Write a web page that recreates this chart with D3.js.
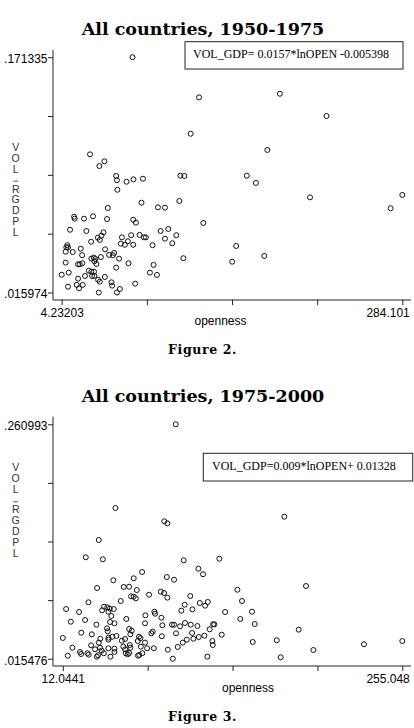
<!DOCTYPE html>
<html>
<head>
<meta charset="utf-8">
<script src="https://cdn.jsdelivr.net/npm/d3@7"></script>
<style>
  body { margin: 0; background: #fff; }
  svg { display: block; }
</style>
</head>
<body>
<svg id="chart" width="414" height="728"></svg>
<script>
// ---- Figure 2: all countries, 1950-1975 ----
const open5075 = [
  27.5, 35.2, 39.3, 49.0, 49.6, 57.5, 63.2, 71.0, 50.0, 101.7,
  105.0, 69.8, 100.9, 42.1, 83.3, 89.1, 14.4, 14.9, 22.6, 30.0,
  41.5, 63.0, 65.2, 120.6, 11.1, 24.5, 38.5, 36.9, 33.9, 35.5,
  28.4, 61.3, 68.2, 71.8, 73.4, 53.7, 58.6, 52.8, 56.1, 63.0,
  85.5, 91.8, 89.1, 98.4, 95.1, 78.9, 8.8, 8.0, 9.4, 7.5,
  13.3, 19.9, 39.9, 47.3, 46.3, 43.2, 21.0, 36.4, 30.6, 31.9,
  31.1, 32.7, 28.6, 51.4, 104.2, 7.5, 17.7, 19.1, 21.2, 59.1,
  49.0, 79.7, 26.5, 28.6, 30.8, 76.7, 82.5, 4.23203, 10.0, 23.4,
  29.2, 31.1, 39.7, 17.7, 34.1, 35.5, 45.1, 16.6, 21.5, 9.4,
  18.5, 45.7, 64.6, 52.0, 49.6, 34.7, 62.4, 117.1, 110.2, 183.5,
  221.8, 173.2, 156.3, 163.8, 208.3, 284.101, 274.5, 147.6, 144.3, 170.7
];
const vol5075 = [
  0.1072, 0.0995, 0.1026, 0.0929, 0.0901, 0.0891, 0.0907, 0.0911, 0.0838, 0.0931,
  0.0929, 0.0753, 0.0764, 0.0718, 0.0722, 0.0720, 0.0660, 0.0647, 0.0647, 0.0663,
  0.0645, 0.0640, 0.0621, 0.0619, 0.0574, 0.0566, 0.0557, 0.0535, 0.0522, 0.0507,
  0.0495, 0.0538, 0.0540, 0.0524, 0.0524, 0.0524, 0.0498, 0.0482, 0.0475, 0.0475,
  0.0566, 0.0579, 0.0515, 0.0538, 0.0485, 0.0472, 0.0472, 0.0458, 0.0458, 0.0429,
  0.0427, 0.0449, 0.0445, 0.0421, 0.0406, 0.0408, 0.0406, 0.0394, 0.0390, 0.0381,
  0.0366, 0.0348, 0.0383, 0.0383, 0.0386, 0.0357, 0.0346, 0.0346, 0.0353, 0.0353,
  0.0324, 0.0342, 0.0304, 0.0297, 0.0297, 0.0291, 0.0276, 0.0277, 0.0291, 0.0269,
  0.0269, 0.0269, 0.0262, 0.0251, 0.0244, 0.0231, 0.0227, 0.0210, 0.0210, 0.0198,
  0.0188, 0.0205, 0.0218, 0.0183, 0.0160, 0.015974, 0.171335, 0.1448, 0.1208, 0.1472,
  0.1325, 0.1101, 0.0931, 0.0883, 0.0788, 0.0804, 0.0716, 0.0467, 0.0363, 0.0401
];

// ---- Figure 3: all countries, 1975-2000 ----
const open7500 = [
  92.9, 49.7, 84.7, 86.9, 170.6, 37.8, 28.5, 40.7, 98.6, 124.1,
  109.1, 112.4, 68.8, 86.5, 91.7, 48.2, 62.8, 186.1, 36.6, 55.7,
  59.5, 65.0, 137.0, 60.9, 62.8, 64.3, 53.5, 73.8, 82.2, 84.5,
  86.9, 103.3, 30.4, 41.6, 43.9, 45.7, 48.5, 40.2, 44.7, 14.4,
  23.7, 77.6, 78.1, 99.3, 110.1, 113.9, 115.8, 140.3, 96.9, 104.8,
  128.2, 147.5, 46.8, 71.2, 17.8, 28.0, 57.5, 45.9, 49.0, 82.6,
  70.9, 36.1, 83.3, 139.1, 149.4, 90.2, 91.7, 96.0, 99.5, 103.6,
  108.4, 119.6, 120.5, 117.2, 43.7, 44.2, 25.3, 32.8, 59.5, 61.4,
  60.4, 76.4, 75.4, 50.4, 12.0441, 38.9, 44.7, 44.7, 47.5, 54.3,
  56.6, 66.6, 67.6, 82.9, 93.1, 104.6, 105.5, 109.4, 113.4, 125.8,
  100.8, 97.9, 94.3, 119.1, 119.4, 87.2, 148.0, 90.8, 115.5, 37.8,
  65.7, 70.9, 32.3, 18.9, 35.1, 38.7, 39.9, 44.7, 49.0, 49.0,
  55.4, 56.6, 60.0, 60.4, 67.9, 72.4, 77.2, 24.4, 25.1, 29.6,
  30.6, 15.6, 36.4, 37.3, 41.4, 46.1, 57.1, 58.5, 59.5, 65.9,
  66.8, 69.0, 165.2, 180.9, 168.0, 191.4, 227.6, 255.048
];
const vol7500 = [
  0.260993, 0.1733, 0.1594, 0.1573, 0.1642, 0.1398, 0.1217, 0.1196, 0.1185, 0.1202,
  0.1097, 0.1039, 0.1063, 0.1010, 0.0982, 0.0976, 0.0997, 0.0916, 0.0895, 0.0906,
  0.0909, 0.0874, 0.0877, 0.0808, 0.0804, 0.0787, 0.0759, 0.0825, 0.0857, 0.0843,
  0.0794, 0.0811, 0.0746, 0.0699, 0.0693, 0.0679, 0.0675, 0.0662, 0.0647, 0.0675,
  0.0644, 0.0647, 0.0626, 0.0720, 0.0738, 0.0710, 0.0749, 0.0759, 0.0658, 0.0672,
  0.0644, 0.0647, 0.0602, 0.0609, 0.0542, 0.0560, 0.0571, 0.0539, 0.0526, 0.0584,
  0.0526, 0.0511, 0.0505, 0.0571, 0.0518, 0.0511, 0.0511, 0.0494, 0.0529, 0.0511,
  0.0497, 0.0515, 0.0515, 0.0463, 0.0473, 0.0442, 0.0427, 0.0410, 0.0466, 0.0448,
  0.0410, 0.0438, 0.0421, 0.0393, 0.0372, 0.0364, 0.0375, 0.0354, 0.0385, 0.0343,
  0.0361, 0.0385, 0.0369, 0.0390, 0.0421, 0.0424, 0.0364, 0.0382, 0.0396, 0.0406,
  0.0354, 0.0323, 0.0278, 0.0340, 0.0298, 0.0249, 0.0330, 0.015476, 0.0176, 0.0323,
  0.0340, 0.0323, 0.0295, 0.0270, 0.0253, 0.0270, 0.0239, 0.0264, 0.0260, 0.0225,
  0.0281, 0.0253, 0.0298, 0.0270, 0.0281, 0.0264, 0.0264, 0.0225, 0.0204, 0.0212,
  0.0197, 0.0186, 0.0176, 0.0191, 0.0212, 0.0176, 0.0212, 0.0201, 0.0215, 0.0186,
  0.0194, 0.0212, 0.0348, 0.0459, 0.0170, 0.0246, 0.0306, 0.0340
];

const xLabels5075 = ["4.23203", "284.101"];
const yLabels5075 = [".171335", ".015974"];
const xLabels7500 = ["12.0441", "255.048"];
const yLabels7500 = [".260993", ".015476"];

const panels = [
  {
    title: "All countries, 1950-1975", caption: "Figure 2.",
    eq: "VOL_GDP= 0.0157*lnOPEN -0.005398",
    xs: open5075, ys: vol5075,
    xDom: [4.23203, 284.101], yDom: [0.015974, 0.171335],
    xLab: xLabels5075, yLab: yLabels5075,
    titleY: 35, axisY: 300, axisTop: 50, xRange: [61.7, 402.3], yRange: [292.5, 57.2],
    box: {x: 185, y: 41.7, w: 218, h: 27.3, tx: 193, ty: 57.5},
    xTitleX: 220.5, xTitleY: 325, captionY: 354, yTitleTop: 146.7
  },
  {
    title: "All countries, 1975-2000", caption: "Figure 3.",
    eq: "VOL_GDP=0.009*lnOPEN+ 0.01328",
    xs: open7500, ys: vol7500,
    xDom: [12.0441, 255.048], yDom: [0.015476, 0.260993],
    xLab: xLabels7500, yLab: yLabels7500,
    titleY: 401.7, axisY: 666, axisTop: 416.7, xRange: [62.8, 402.3], yRange: [658.7, 424.3],
    box: {x: 203.3, y: 453.3, w: 209.4, h: 27.7, tx: 212, ty: 469.5},
    xTitleX: 248, xTitleY: 691.7, captionY: 721, yTitleTop: 467.3
  }
];

const svg = d3.select("#chart");
const axisX = 53;
const sans = "'Liberation Sans', Arial, sans-serif";

function drawPanel(p) {
  const g = svg.append("g");
  const x = d3.scaleLinear().domain(p.xDom).range(p.xRange);
  const y = d3.scaleLinear().domain(p.yDom).range(p.yRange);

  // five even ticks, only the ends labelled
  const xt = d3.range(5).map(i => p.xDom[0] + i * (p.xDom[1] - p.xDom[0]) / 4);
  const yt = d3.range(5).map(i => p.yDom[0] + i * (p.yDom[1] - p.yDom[0]) / 4);

  g.append("text")
    .attr("x", 203).attr("y", p.titleY)
    .attr("text-anchor", "middle")
    .style("font-family", "'DejaVu Serif', serif")
    .style("font-weight", "bold")
    .style("font-size", "17.5px")
    .text(p.title);

  // axes
  const ya = g.append("g")
    .attr("transform", `translate(${axisX},0)`)
    .call(d3.axisLeft(y).tickValues(yt).tickSize(5).tickPadding(0.5)
      .tickFormat((d, i) => i === 0 ? p.yLab[1] : i === 4 ? p.yLab[0] : ""));
  ya.select(".domain").remove();
  ya.selectAll("text").style("font-family", sans).style("font-size", "12px")
    .attr("dy", "0.45em");

  const xa = g.append("g")
    .attr("transform", `translate(0,${p.axisY})`)
    .call(d3.axisBottom(x).tickValues(xt).tickSize(5).tickPadding(3.2)
      .tickFormat((d, i) => i === 0 ? p.xLab[0] : i === 4 ? p.xLab[1] : ""));
  xa.select(".domain").remove();
  xa.selectAll("text").style("font-family", sans).style("font-size", "12px");
  xa.selectAll(".tick").filter((d, i) => i === 4).select("text")
    .attr("text-anchor", "end").attr("dx", 7);

  g.selectAll(".tick line").attr("stroke", "#222");

  g.append("line")
    .attr("x1", axisX).attr("x2", axisX)
    .attr("y1", p.axisTop).attr("y2", p.axisY)
    .attr("stroke", "#222");
  g.append("line")
    .attr("x1", axisX).attr("x2", 411)
    .attr("y1", p.axisY).attr("y2", p.axisY)
    .attr("stroke", "#222");

  // stacked y title
  const yChars = ["V", "O", "L", "R", "G", "D", "P", "L"];
  const yOff = [0, 11, 22.3, 42, 52.5, 63.5, 74.5, 85.5];
  g.selectAll(".ych").data(yChars).enter().append("text")
    .attr("x", 15.7).attr("y", (d, i) => p.yTitleTop + yOff[i] + 3.8)
    .attr("text-anchor", "middle")
    .style("font-family", sans).style("font-size", "10.5px")
    .style("fill", "#333")
    .text(d => d);
  g.append("line")
    .attr("x1", 13.2).attr("x2", 18.2)
    .attr("y1", p.yTitleTop + 34.5).attr("y2", p.yTitleTop + 34.5)
    .attr("stroke", "#444").attr("stroke-width", 0.9);

  g.append("text")
    .attr("x", p.xTitleX).attr("y", p.xTitleY)
    .attr("text-anchor", "middle")
    .style("font-family", sans).style("font-size", "12px")
    .text("openness");

  // points
  g.append("g").selectAll("circle")
    .data(p.xs.map((v, i) => [v, p.ys[i]]))
    .enter().append("circle")
    .attr("cx", d => x(d[0]))
    .attr("cy", d => y(d[1]))
    .attr("r", 2.5)
    .attr("fill", "none")
    .attr("stroke", "#111")
    .attr("stroke-width", 1);

  // regression equation box
  g.append("rect")
    .attr("x", p.box.x).attr("y", p.box.y)
    .attr("width", p.box.w).attr("height", p.box.h)
    .attr("fill", "#fff").attr("stroke", "#222").attr("stroke-width", 1);
  g.append("text")
    .attr("x", p.box.tx).attr("y", p.box.ty)
    .style("font-family", "'Liberation Serif', 'Times New Roman', serif")
    .style("font-size", "12px")
    .text(p.eq);

  g.append("text")
    .attr("x", 202.5).attr("y", p.captionY)
    .attr("text-anchor", "middle")
    .style("font-family", "'DejaVu Serif', serif")
    .style("font-weight", "bold")
    .style("font-size", "12.5px")
    .style("letter-spacing", "0.6px")
    .text(p.caption);
}

panels.forEach(drawPanel);
</script>
</body>
</html>
